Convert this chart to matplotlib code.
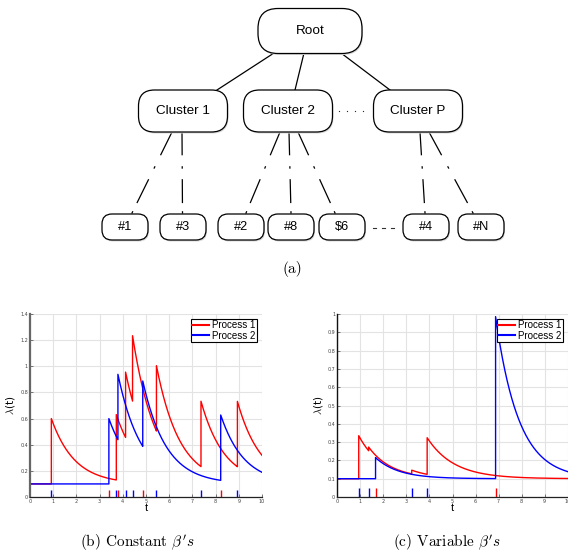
import matplotlib.pyplot as plt
import numpy as np
from matplotlib.patches import FancyBboxPatch
from matplotlib.ticker import FormatStrFormatter

plt.rcParams['mathtext.fontset'] = 'cm'

# ---- data -------------------------------------------------------------
# (a) cluster tree
root_label     = 'Root'
cluster_labels = ['Cluster 1', 'Cluster 2', 'Cluster P']
leaf_labels    = ['#1', '#3', '#2', '#8', '$6', '#4', '#N']
leaf_parent    = [0, 0, 1, 1, 1, 2, 2]

# (b) constant beta's: event times of each process
mu = 0.1
b_times_1 = [3.40, 3.79, 4.86, 8.22]                       # process 1 (red)
b_times_2 = [0.92, 3.72, 4.12, 4.42, 5.45, 7.37, 8.94]     # process 2 (blue)
b_alpha   = 0.5
b_beta    = 1.0

# (c) variable beta's: jump sizes and decays
c_times_1  = [1.66, 6.87]
c_jumps_1  = [0.115, 0.885]      # excitation given to process 2
c_betas_1  = [1.0, 1.0]
c_times_2  = [0.93, 1.36, 3.23, 3.90]
c_jumps_2  = [0.235, 0.02, 0.02, 0.20]   # excitation given to process 1
c_betas_2  = [1.0, 1.0, 1.0, 0.85]

labels = ['Process 1', 'Process 2']
colors = ['#ff0000', '#0000ff']


def intensity(t, times, jumps, betas):
    lam = np.full_like(t, mu)
    for te, a, b in zip(times, jumps, betas):
        m = t >= te
        lam[m] += a * np.exp(-b * (t[m] - te))
    return lam


def time_grid(times):
    ev = np.array(times)
    return np.sort(np.concatenate([np.linspace(0, 10, 2001), ev - 1e-6, ev]))


# ---- figure -----------------------------------------------------------
W, H = 568, 559
fig = plt.figure(figsize=(W / 100, H / 100), dpi=100)

bg = fig.add_axes([0, 0, 1, 1])
bg.set_xlim(0, W)
bg.set_ylim(H, 0)
bg.axis('off')


def node(cx, cy, w, h, r, text, fs):
    sh = FancyBboxPatch((cx - w / 2 + 1, cy - h / 2 + 1.5), w, h,
                        boxstyle='round,pad=0,rounding_size=%g' % r,
                        fc='#d8d8d8', ec='none', zorder=2)
    bg.add_patch(sh)
    p = FancyBboxPatch((cx - w / 2, cy - h / 2), w, h,
                       boxstyle='round,pad=0,rounding_size=%g' % r,
                       fc='white', ec='black', lw=0.9, zorder=3)
    bg.add_patch(p)
    bg.text(cx, cy, text, ha='center', va='center', fontsize=fs,
            family='Liberation Sans', parse_math=False, zorder=4)


def broken(x0, y0, x1, y1):
    # dash . dash . pattern between a cluster and a leaf
    def pt(f):
        return x0 + (x1 - x0) * f, y0 + (y1 - y0) * f
    for a, b in [(0, 0.28), (0.59, 0.87)]:
        (xa, ya), (xb, yb) = pt(a), pt(b)
        bg.plot([xa, xb], [ya, yb], color='black', lw=0.9, zorder=1)
    for f in [0.44, 0.995]:
        (xa, ya), (xb, yb) = pt(f - 0.01), pt(f + 0.005)
        bg.plot([xa, xb], [ya, yb], color='black', lw=0.9, zorder=1)


# tree layout (pixels)
root_xy = (310, 31)
cl_x = [183, 288, 418]
cl_y = 111
leaf_x = [125, 183, 241, 291, 342, 426, 481]
leaf_y = 227
root_feet = [274, 304, 341]
cl_feet = [[172, 182], [280, 289, 298], [420, 429]]
leaf_heads = [132, 182.5, 246, 291, 335, 425, 473]

for i in range(3):
    bg.plot([root_feet[i], [217, 295, 390][i]], [53, 90], color='black', lw=0.9, zorder=1)

k = [0, 0, 0]
for j, p in enumerate(leaf_parent):
    broken(cl_feet[p][k[p]], 132, leaf_heads[j], 213)
    k[p] += 1

node(root_xy[0], root_xy[1], 104, 45, 20, root_label, 9.7)
for x, lab in zip(cl_x, cluster_labels):
    node(x, cl_y, 89, 42, 16, lab, 9.7)
for x, lab in zip(leaf_x, leaf_labels):
    node(x, leaf_y, 46, 26, 10, lab, 9.2)

bg.plot([339, 347, 355, 363], [111] * 4, ls='none', marker='o', ms=0.9, mew=0, color='#222222')
for xa in [373, 382, 391]:
    bg.plot([xa, xa + 3], [228, 228], color='#333333', lw=0.8)

bg.text(292, 269, '(a)', ha='center', va='center', fontsize=11, family='cmr10')
bg.text(137, 543, r"(b) Constant $\beta' s$", ha='center', va='center', fontsize=11, family='cmr10')
bg.text(447, 543, r"(c) Variable $\beta' s$", ha='center', va='center', fontsize=11, family='cmr10')


def panel(rect, ymax, ystep, curves, ticks, spine_col, spine_lw):
    ax = fig.add_axes([rect[0] / W, 1 - (rect[1] + rect[3]) / H, rect[2] / W, rect[3] / H])
    for (t, lam), c, lab in zip(curves, colors, labels):
        ax.plot(t, lam, color=c, lw=1.0, label=lab)
    for tt, c in zip(ticks, colors):
        ax.vlines(tt, 0, 0.05, color=c, lw=1.0)
    ax.set_xlim(0, 10)
    ax.set_ylim(0, ymax)
    ax.set_xticks(np.arange(0, 11, 1))
    ax.set_yticks(np.arange(0, ymax + 1e-9, ystep))
    ax.yaxis.set_major_formatter(FormatStrFormatter('%g'))
    ax.grid(True, color='#e3e3e3', lw=0.8)
    ax.set_axisbelow(True)
    for s in ['top', 'right']:
        ax.spines[s].set_visible(False)
    ax.spines['left'].set_color(spine_col)
    ax.spines['left'].set_linewidth(spine_lw)
    ax.spines['bottom'].set_color('#222222')
    ax.spines['bottom'].set_linewidth(0.9)
    ax.tick_params(direction='in', length=2, width=0.5, colors='#444444',
                   labelsize=3.5, pad=1.5)
    ax.set_xlabel('t', fontsize=8, labelpad=-1, family='Liberation Sans')
    ax.set_ylabel(r'$\lambda$(t)', fontsize=7.5, labelpad=2)
    leg = ax.legend(loc='upper right', fontsize=7, handlelength=1.75,
                    handletextpad=0.3, borderpad=0.15, labelspacing=0.05,
                    borderaxespad=0.5, fancybox=False, framealpha=1,
                    prop={'family': 'Liberation Sans', 'size': 7})
    leg.get_frame().set_edgecolor('black')
    leg.get_frame().set_linewidth(0.8)
    for h in leg.get_lines():
        h.set_linewidth(1.5)
    return ax


# (b)
tb1 = time_grid(b_times_2)
tb2 = time_grid(b_times_1)
curves_b = [(tb1, intensity(tb1, b_times_2, [b_alpha] * len(b_times_2), [b_beta] * len(b_times_2))),
            (tb2, intensity(tb2, b_times_1, [b_alpha] * len(b_times_1), [b_beta] * len(b_times_1)))]
panel((30, 314, 232, 183), 1.4, 0.2, curves_b, [b_times_1, b_times_2], '#666666', 1.6)

# (c)
tc1 = time_grid(c_times_2)
tc2 = time_grid(c_times_1)
curves_c = [(tc1, intensity(tc1, c_times_2, c_jumps_2, c_betas_2)),
            (tc2, intensity(tc2, c_times_1, c_jumps_1, c_betas_1))]
panel((337.3, 314, 230.4, 183), 1.0, 0.1, curves_c, [c_times_1, c_times_2], '#111111', 1.0)

fig.savefig('out.png', dpi=100)
